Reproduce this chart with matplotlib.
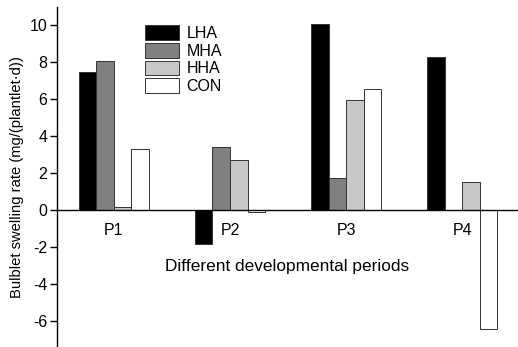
import matplotlib
matplotlib.use("Agg")
import matplotlib.pyplot as plt
import matplotlib.transforms as mtransforms
import numpy as np

periods = ["P1", "P2", "P3", "P4"]
series = ["LHA", "MHA", "HHA", "CON"]
lha = [7.48, -1.84, 10.09, 8.29]
mha = [8.1, 3.44, 1.77, 0.0]
hha = [0.2, 2.7, 5.95, 1.51]
con = [3.31, -0.12, 6.58, -6.43]
colors = ["#000000", "#808080", "#c8c8c8", "#ffffff"]

plt.rcParams['font.family'] = ['Liberation Sans', 'DejaVu Sans']
fig = plt.figure(figsize=(5.18, 3.47), dpi=100)
ax = fig.add_axes([0.110, 0.0, 0.89, 0.98])

x = np.arange(1, len(periods) + 1)
w = 0.151
for i, (vals, c, name) in enumerate(zip([lha, mha, hha, con], colors, series)):
    ax.bar(x + (i - 1.5) * w, vals, width=w, color=c, edgecolor="#333333",
           linewidth=0.7, label=name, zorder=2)

ax.set_xlim(0.51, 4.48)
ax.set_ylim(-7.4, 11.0)
ax.spines['top'].set_visible(False)
ax.spines['right'].set_visible(False)
ax.spines['bottom'].set_position(('data', 0))
ax.spines['bottom'].set_zorder(3)
ax.spines['left'].set_linewidth(1.0)
ax.spines['bottom'].set_linewidth(1.0)
ax.set_xticks(x)
ax.set_xticklabels(periods, fontsize=11.5)
ax.tick_params(axis='x', length=0, pad=9)
ax.set_yticks(np.arange(-6, 11, 2))
ax.set_yticklabels([str(v) for v in range(-6, 11, 2)], fontsize=11.5)
ax.tick_params(axis='y', direction='out', length=5, width=1, pad=2)
ax.set_ylabel("Bulblet swelling rate (mg/(plantlet·d))", fontsize=10.6, labelpad=4)

ax.text(0.5, -3.05, "Different developmental periods", fontsize=12.4,
        ha='center', va='center',
        transform=mtransforms.blended_transform_factory(ax.transAxes, ax.transData))

leg = ax.legend(loc='upper left', bbox_to_anchor=(0.191, 0.947), frameon=False,
                fontsize=11.5, handlelength=2.1, handleheight=1.05,
                labelspacing=0.12, handletextpad=0.5, borderaxespad=0,
                borderpad=0)

fig.savefig("out.png", dpi=100)
